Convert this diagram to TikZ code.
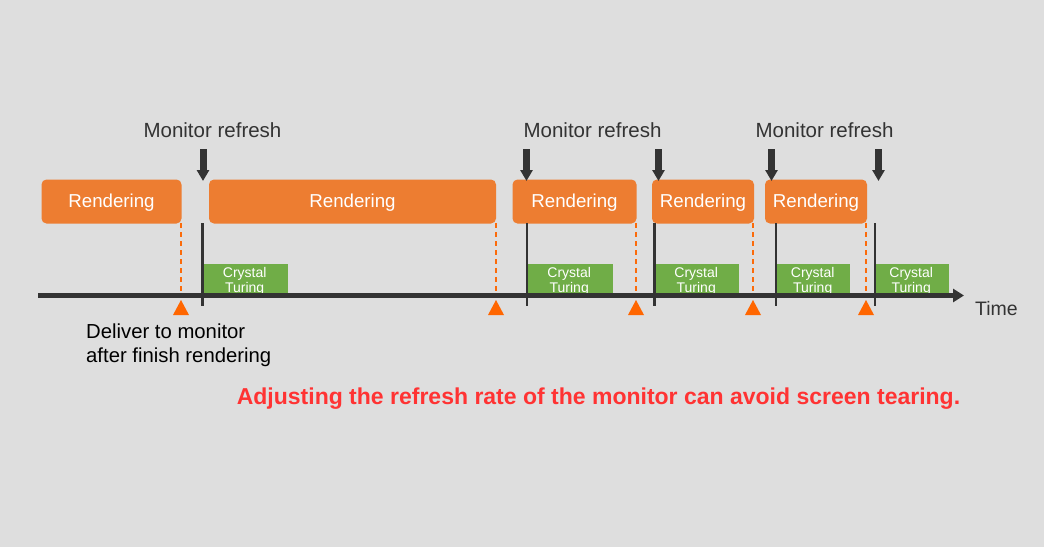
\documentclass[tikz,border=0pt]{standalone}
\usepackage{fontspec}
\setmainfont{Liberation Sans}
\usetikzlibrary{arrows.meta,calc}
\definecolor{bg}{HTML}{DEDEDE}
\definecolor{rend}{HTML}{ED7D31}
\definecolor{crys}{HTML}{70AD47}
\definecolor{tri}{HTML}{FF6600}
\definecolor{dark}{HTML}{333333}
\definecolor{msg}{HTML}{FF3333}
\tikzset{
  renderbox/.style={fill=rend, rounded corners=5pt, minimum height=44pt, inner sep=0pt,
    text=white, font=\fontsize{18.7}{20}\selectfont},
  rendertxt/.style={text=white, inner sep=0pt, font=\fontsize{18.7}{20}\selectfont},
  crysbox/.style={fill=crys, minimum height=30pt, inner sep=0pt, anchor=south west},
  crystxt/.style={text=white, align=center, inner sep=0pt, font=\fontsize{14}{15}\selectfont},
  refreshlbl/.style={text=dark, anchor=base, inner sep=0pt, font=\fontsize{20.5}{22}\selectfont},
  refresharrow/.style={draw=dark, line width=7pt, -{Triangle[width=12pt,length=11pt]}},
  syncline/.style={draw=dark, line width=2.5pt},
  finishline/.style={draw=tri!80!rend, line width=2pt, dash pattern=on 5pt off 4pt},
  finishtri/.style={fill=tri},
  timeline/.style={draw=dark, line width=5pt, -{Triangle[width=13pt,length=11pt]}},
}
\begin{document}
\begin{tikzpicture}[x=1pt,y=-1pt]
\fill[bg] (0,0) rectangle (1044,547);
\useasboundingbox (0,0) rectangle (1044,547);

% rendering boxes
\node[renderbox, minimum width=140pt] (r1) at (111.5,201.5) {};
\node[renderbox, minimum width=287pt] (r2) at (352.5,201.5) {};
\node[renderbox, minimum width=124pt] (r3) at (574.5,201.5) {};
\node[renderbox, minimum width=102pt] (r4) at (703,201.5) {};
\node[renderbox, minimum width=102pt] (r5) at (816,201.5) {};
\foreach \i in {1,...,5}{
  \node[rendertxt] (rt\i) at ($(r\i.center)+(0,1.5)$) {Rendering};
}

% monitor refresh labels
\node[refreshlbl] (m1) at (212.5,137) {Monitor refresh};
\node[refreshlbl] (m2) at (592.5,137) {Monitor refresh};
\node[refreshlbl] (m3) at (824.5,137) {Monitor refresh};

% refresh arrows
\foreach \i/\x in {1/203,2/526.5,3/658.5,4/771.5,5/878.5}{
  \coordinate (at\i) at (\x,149);
  \coordinate (ab\i) at (\x,181);
  \draw[refresharrow] (at\i) -- (ab\i);
}

% crystal turing boxes
\node[crysbox, minimum width=85pt] (c1) at (203,294) {};
\node[crysbox, minimum width=85pt] (c2) at (527.5,294) {};
\node[crysbox, minimum width=84pt] (c3) at (655,294) {};
\node[crysbox, minimum width=73pt] (c4) at (777,294) {};
\node[crysbox, minimum width=74pt] (c5) at (875,294) {};
\foreach \i in {1,...,5}{
  \node[crystxt] (ct\i) at ($(c\i.center)+(-1,3)$) {Crystal\\Turing};
}

% dashed finish lines
\foreach \i/\x in {1/181,2/496,3/636,4/753,5/866}{
  \coordinate (ft\i) at (\x,223);
  \coordinate (fb\i) at (\x,292);
  \draw[finishline] (ft\i) -- (fb\i);
}

% timeline
\coordinate (tl0) at (38,295.5);
\coordinate (tl1) at (964,295.5);
\draw[timeline] (tl0) -- (tl1);

% sync lines
\foreach \i/\x in {1/202.5,2/527,3/654.5,4/776,5/875}{
  \coordinate (st\i) at (\x,223);
  \coordinate (sb\i) at (\x,306);
  \draw[syncline] (st\i) -- (sb\i);
}

% finish triangles
\foreach \i in {1,...,5}{
  \fill[finishtri] ($(fb\i)+(0,8)$) -- ++(8,15) -- ++(-16,0) -- cycle;
}

% labels
\node[anchor=base west, inner sep=0pt, font=\fontsize{20.3}{22}\selectfont] (d1) at (86,338) {Deliver to monitor};
\node[anchor=base west, inner sep=0pt, font=\fontsize{20.3}{22}\selectfont] (d2) at (86,362) {after finish rendering};
\node[anchor=base west, inner sep=0pt, text=dark, font=\fontsize{19.5}{21}\selectfont] (time) at (975,315) {Time};
\node[anchor=base, inner sep=0pt, text=msg, font=\bfseries\fontsize{23}{25}\selectfont] (msg) at (598.5,404) {Adjusting the refresh rate of the monitor can avoid screen tearing.};
\end{tikzpicture}
\end{document}
